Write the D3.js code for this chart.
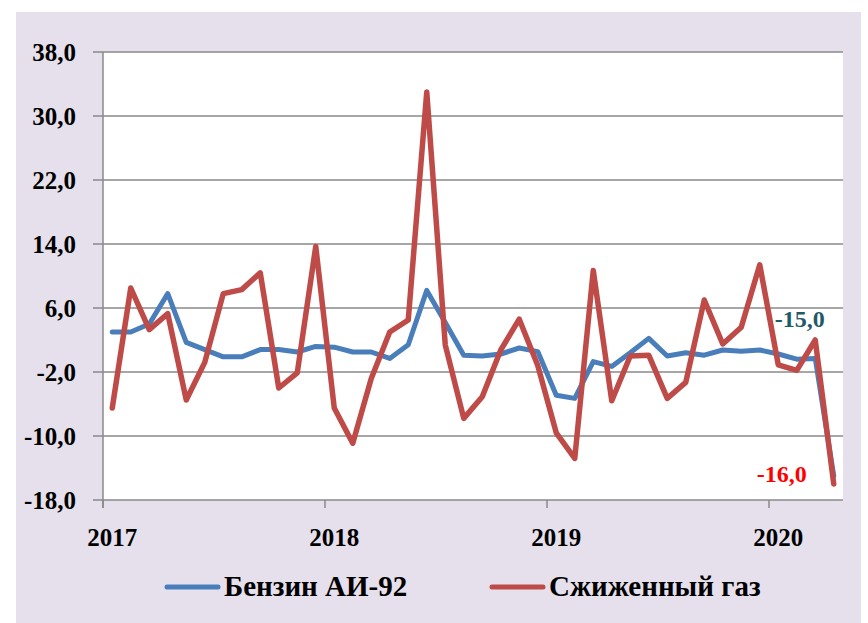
<!DOCTYPE html>
<html>
<head>
  <meta charset="UTF-8">
  <style>
    body { margin: 0; background: #fff; }
    text { font-family: "Liberation Serif", "DejaVu Serif", serif; font-weight: bold; }
  </style>
</head>
<body>
  <svg id="chart"></svg>
  <script src="https://d3js.org/d3.v7.min.js"></script>
  <script>

    let width = 868, height = 623;

    // data (monthly, Jan 2017 - Apr 2020)
    var years = ["2017", "2018", "2019", "2020"]
    var months = d3.range(40)
    var yTicks = [-18, -10, -2, 6, 14, 22, 30, 38]
    var seriesNames = ["Бензин АИ-92", "Сжиженный газ"]
    var petrol = [3.0, 3.0, 4.0, 7.8, 1.7, 0.8, -0.1, -0.1, 0.8, 0.8, 0.5, 1.2,
                  1.1, 0.5, 0.5, -0.3, 1.4, 8.2, 4.2, 0.1, 0.0, 0.25, 1.0, 0.55,
                  -4.9, -5.3, -0.7, -1.3, 0.4, 2.2, 0.0, 0.4, 0.1, 0.75, 0.6, 0.75,
                  0.25, -0.4, -0.3, -15.0]
    var lpg = [-6.5, 8.5, 3.3, 5.3, -5.5, -0.8, 7.8, 8.3, 10.4, -4.0, -2.1, 13.7,
               -6.5, -10.9, -2.8, 3.0, 4.5, 33.0, 1.4, -7.8, -5.1, 0.75, 4.6, -1.2,
               -9.6, -12.8, 10.7, -5.6, 0.0, 0.1, -5.3, -3.3, 7.0, 1.5, 3.6, 11.4,
               -1.1, -1.8, 2.0, -16.0]
    var colors = ["#4a7ebb", "#be4b48"]

    let svg = d3.select("#chart")
      .attr("width", width)
      .attr("height", height)

    // lavender background
    svg.append("rect")
      .attr("x", 16).attr("y", 12)
      .attr("width", 845).attr("height", 620)
      .attr("fill", "#e5e0ec")

    let pLeft = 103, pRight = 843, pTop = 52, pBottom = 500

    let x = d3.scaleBand().domain(months).range([pLeft, pRight]).padding(0)
    let y = d3.scaleLinear().domain([-18, 38]).range([pBottom, pTop])

    let fmt = v => v.toFixed(1).replace(".", ",")

    svg.append("rect")
      .attr("x", pLeft).attr("y", pTop)
      .attr("width", pRight - pLeft).attr("height", pBottom - pTop)
      .attr("fill", "#fff")

    // gridlines + y ticks
    let grid = svg.append("g").attr("id", "grid")
    grid.selectAll("line")
      .data(yTicks)
      .enter()
      .append("line")
      .attr("x1", pLeft - 10)
      .attr("x2", pRight)
      .attr("y1", d => y(d))
      .attr("y2", d => y(d))
      .attr("stroke", "#8a8a8a")
      .attr("stroke-width", 1.5)

    svg.append("g")
      .selectAll("text")
      .data(yTicks)
      .enter()
      .append("text")
      .attr("x", 76)
      .attr("y", d => y(d) + 9)
      .attr("text-anchor", "end")
      .attr("font-size", 25)
      .attr("fill", "#000")
      .text(fmt)

    // y axis line
    svg.append("line")
      .attr("x1", pLeft).attr("x2", pLeft)
      .attr("y1", pTop).attr("y2", pBottom + 8)
      .attr("stroke", "#8a8a8a")
      .attr("stroke-width", 1.5)

    // x ticks at every January
    let yearStart = years.map((yr, k) => k * 12)
    svg.append("g")
      .selectAll("line")
      .data(yearStart)
      .enter()
      .append("line")
      .attr("x1", d => x(d)).attr("x2", d => x(d))
      .attr("y1", pBottom).attr("y2", pBottom + 8)
      .attr("stroke", "#8a8a8a")
      .attr("stroke-width", 1.5)

    svg.append("g")
      .selectAll("text")
      .data(years)
      .enter()
      .append("text")
      .attr("x", (d, k) => x(yearStart[k]) + x.bandwidth() / 2)
      .attr("y", 546)
      .attr("text-anchor", "middle")
      .attr("font-size", 25)
      .text(d => d)

    // lines
    let line = d3.line()
      .x((d, i) => x(months[i]) + x.bandwidth() / 2)
      .y(d => y(d))

    svg.append("g")
      .selectAll("path")
      .data([petrol, lpg])
      .enter()
      .append("path")
      .attr("d", line)
      .attr("fill", "none")
      .attr("stroke", (d, i) => colors[i])
      .attr("stroke-width", (d, i) => i ? 5.5 : 5)
      .attr("stroke-linejoin", "round")
      .attr("stroke-linecap", "round")

    // end labels
    let last = months.length - 1
    svg.append("text")
      .attr("x", x(last) + x.bandwidth() / 2 - 59)
      .attr("y", 327)
      .attr("font-size", 24)
      .attr("fill", "#1f5a68")
      .text(fmt(petrol[last]))

    svg.append("text")
      .attr("x", x(last) + x.bandwidth() / 2 - 77)
      .attr("y", 482)
      .attr("font-size", 24)
      .attr("fill", "#ff0000")
      .text(fmt(lpg[last]))

    // legend
    let legendX = [167, 492]
    let legend = svg.append("g")
      .selectAll("g")
      .data(seriesNames)
      .enter()
      .append("g")
      .attr("transform", (d, i) => "translate(" + legendX[i] + ",0)")

    legend.append("line")
      .attr("x1", 0).attr("x2", 51)
      .attr("y1", 587).attr("y2", 587)
      .attr("stroke", (d, i) => colors[i])
      .attr("stroke-width", 5)
      .attr("stroke-linecap", "round")

    legend.append("text")
      .attr("x", 57)
      .attr("y", 596)
      .attr("font-size", 29)
      .text(d => d)

  </script>
</body>
</html>
